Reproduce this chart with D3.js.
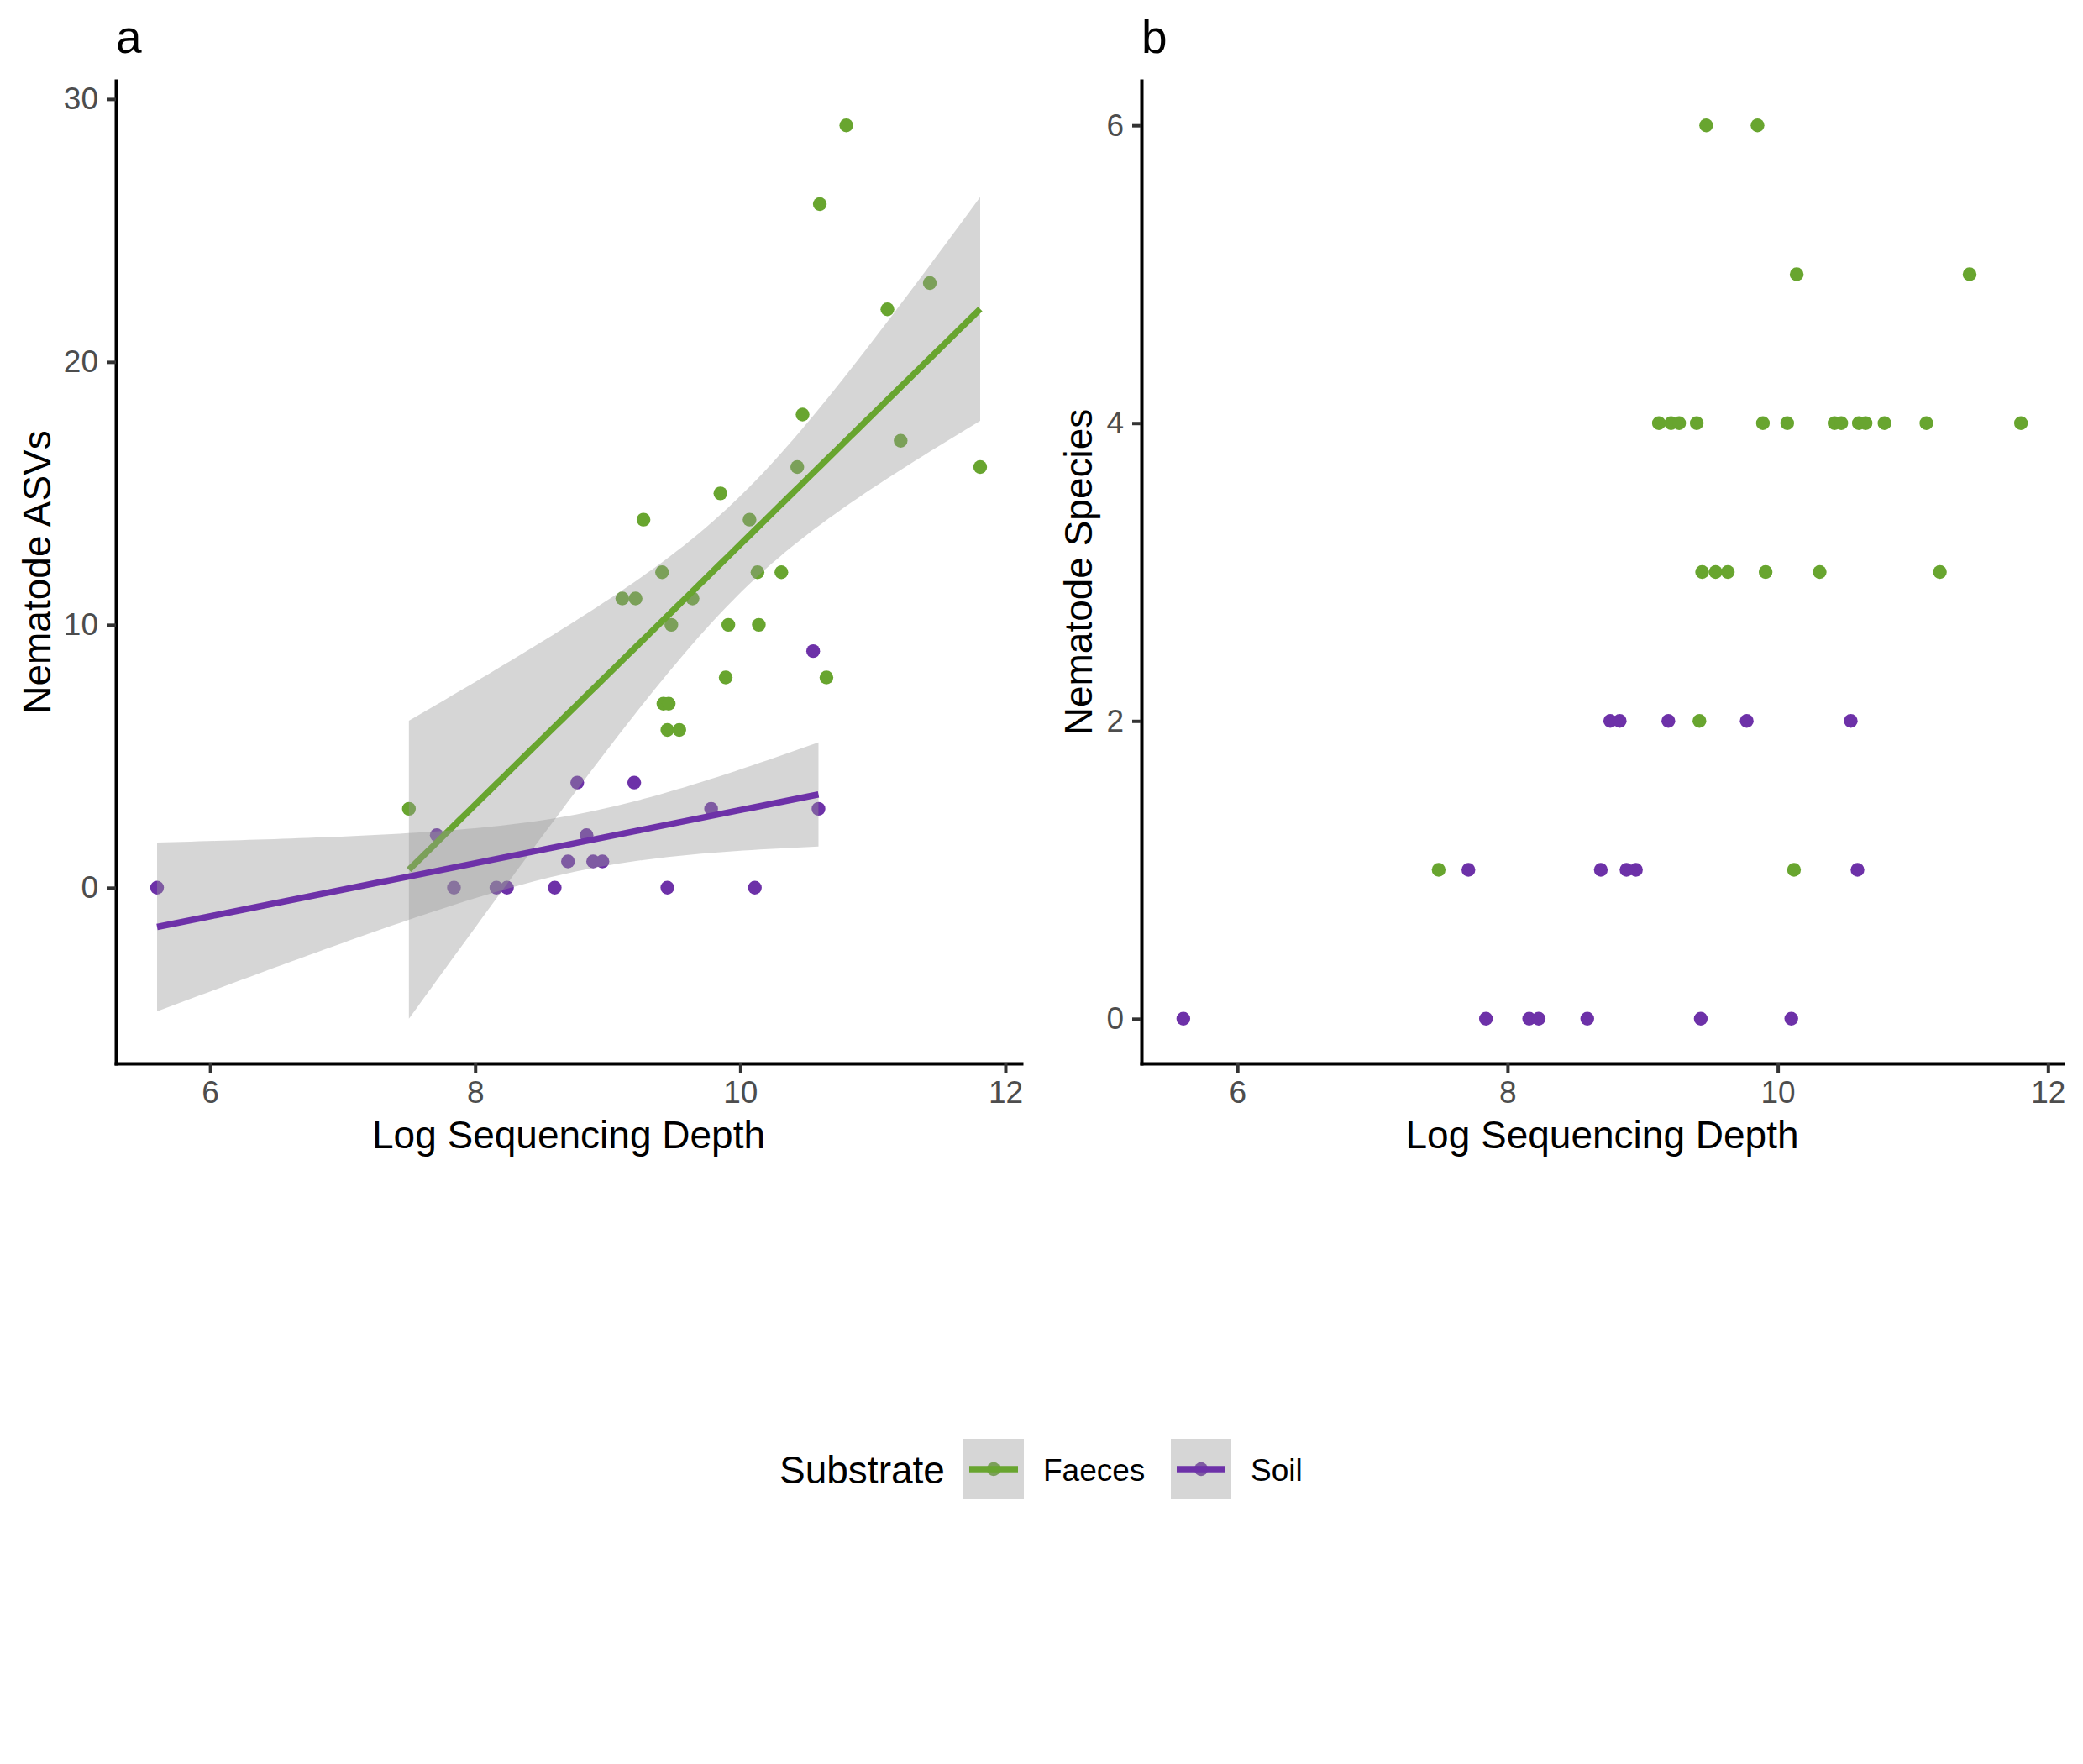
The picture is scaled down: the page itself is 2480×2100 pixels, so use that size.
<!DOCTYPE html>
<html>
<head>
<meta charset="utf-8">
<script src="https://cdn.jsdelivr.net/npm/d3@7"></script>
<style>
  body { margin: 0; background: #ffffff; }
  svg { display: block; }
  text { font-family: "Liberation Sans", Arial, sans-serif; }
</style>
</head>
<body>
<svg id="chart" width="2480" height="2100"></svg>
<script>
// ---------------- data ----------------
const substrates = ["Faeces", "Soil"];
const substrateColors = ["#68A52F", "#6D31A8"];

// Panel a: Nematode ASVs vs log sequencing depth
const faecesDepthA = [7.50, 10.80, 10.60, 11.43, 11.11, 11.21, 11.81, 10.47, 10.43, 9.85, 9.27, 10.07, 9.41, 10.13, 10.31, 9.11, 9.21, 9.64, 9.48, 9.91, 10.14, 9.89, 10.65, 9.42, 9.46, 9.45, 9.54];
const faecesAsv    = [3, 29, 26, 23, 22, 17, 16, 18, 16, 15, 14, 14, 12, 12, 12, 11, 11, 11, 10, 10, 10, 8, 8, 7, 7, 6, 6];
const soilDepthA   = [5.60, 7.84, 8.16, 8.24, 8.60, 9.45, 10.11, 8.70, 8.89, 8.96, 7.71, 8.84, 9.78, 10.59, 8.77, 9.20, 10.55];
const soilAsv      = [0, 0, 0, 0, 0, 0, 0, 1, 1, 1, 2, 2, 3, 3, 4, 4, 9];

// Panel b: Nematode species vs log sequencing depth
const faecesDepthB  = [9.47, 9.85, 10.14, 11.42, 9.12, 9.21, 9.27, 9.40, 9.89, 10.07, 10.42, 10.47, 10.60, 10.65, 10.79, 11.10, 11.80, 9.44, 9.54, 9.63, 9.91, 10.31, 11.20, 9.42, 7.49, 10.12];
const faecesSpecies = [6, 6, 5, 5, 4, 4, 4, 4, 4, 4, 4, 4, 4, 4, 4, 4, 4, 3, 3, 3, 3, 3, 3, 2, 1, 1];
const soilDepthB    = [5.60, 7.84, 8.16, 8.23, 8.59, 9.43, 10.10, 7.71, 8.69, 8.88, 8.95, 10.59, 8.76, 8.83, 9.19, 9.77, 10.54];
const soilSpecies   = [0, 0, 0, 0, 0, 0, 0, 1, 1, 1, 1, 1, 2, 2, 2, 2, 2];

const xTicks = [6, 8, 10, 12];
const yTicksA = [0, 10, 20, 30];
const yTicksB = [0, 2, 4, 6];

const panelLabels = ["a", "b"];
const xTitle = "Log Sequencing Depth";
const yTitleA = "Nematode ASVs";
const yTitleB = "Nematode Species";
const legendTitle = "Substrate";

// ---------------- helpers ----------------
function tQuantile975(v) {
  const z = 1.959964;
  const g1 = (Math.pow(z, 3) + z) / 4;
  const g2 = (5 * Math.pow(z, 5) + 16 * Math.pow(z, 3) + 3 * z) / 96;
  const g3 = (3 * Math.pow(z, 7) + 19 * Math.pow(z, 5) + 17 * Math.pow(z, 3) - 15 * z) / 384;
  const g4 = (79 * Math.pow(z, 9) + 776 * Math.pow(z, 7) + 1482 * Math.pow(z, 5) - 1920 * Math.pow(z, 3) - 945 * z) / 92160;
  return z + g1 / v + g2 / (v * v) + g3 / Math.pow(v, 3) + g4 / Math.pow(v, 4);
}

// ordinary least squares fit with 95% confidence band (as geom_smooth(method = "lm"))
function linFit(xs, ys) {
  const n = xs.length;
  const mx = d3.mean(xs), my = d3.mean(ys);
  const sxx = d3.sum(xs, x => (x - mx) * (x - mx));
  const sxy = d3.sum(xs.map((x, i) => (x - mx) * (ys[i] - my)));
  const b = sxy / sxx, a = my - b * mx;
  const sse = d3.sum(xs.map((x, i) => Math.pow(ys[i] - a - b * x, 2)));
  const s = Math.sqrt(sse / (n - 2));
  const t = tQuantile975(n - 2);
  const [x0, x1] = d3.extent(xs);
  return d3.range(80).map(k => {
    const x = x0 + (x1 - x0) * k / 79;
    const y = a + b * x;
    const se = s * Math.sqrt(1 / n + (x - mx) * (x - mx) / sxx);
    return { x, y, lo: y - t * se, hi: y + t * se };
  });
}

function expand(lo, hi) {
  const p = (hi - lo) * 0.05;
  return [lo - p, hi + p];
}

// ---------------- layout ----------------
const svg = d3.select("#chart");
svg.append("rect").attr("width", 2480).attr("height", 2100).attr("fill", "#ffffff");

const plotTop = 96, plotBottom = 1266;
const panels = [
  { left: 138, right: 1216, label: panelLabels[0], yTitle: yTitleA, yTicks: yTicksA,
    groups: [ { xs: faecesDepthA, ys: faecesAsv }, { xs: soilDepthA, ys: soilAsv } ], smooth: true, yTitleX: 60 },
  { left: 1359, right: 2456, label: panelLabels[1], yTitle: yTitleB, yTicks: yTicksB,
    groups: [ { xs: faecesDepthB, ys: faecesSpecies }, { xs: soilDepthB, ys: soilSpecies } ], smooth: false, yTitleX: 1300 }
];

const fmt = d3.format("d");

panels.forEach(p => {
  const allX = p.groups.flatMap(g => g.xs);
  let allY = p.groups.flatMap(g => g.ys);
  const fits = p.smooth ? p.groups.map(g => linFit(g.xs, g.ys)) : [];
  fits.forEach(f => { allY = allY.concat(f.map(d => d.lo), f.map(d => d.hi)); });

  const x = d3.scaleLinear().domain(expand(d3.min(allX), d3.max(allX))).range([p.left, p.right]);
  const y = d3.scaleLinear().domain(expand(d3.min(allY), d3.max(allY))).range([plotBottom, plotTop]);

  const g = svg.append("g");

  // points
  p.groups.forEach((grp, gi) => {
    g.append("g").selectAll("circle")
      .data(grp.xs.map((xv, i) => [xv, grp.ys[i]]))
      .join("circle")
      .attr("cx", d => x(d[0]))
      .attr("cy", d => y(d[1]))
      .attr("r", 8.2)
      .attr("fill", substrateColors[gi]);
  });

  // smooths: ribbon then line per group
  fits.forEach((f, gi) => {
    g.append("path")
      .attr("d", d3.area().x(d => x(d.x)).y0(d => y(d.lo)).y1(d => y(d.hi))(f))
      .attr("fill", "#999999")
      .attr("fill-opacity", 0.4);
    g.append("path")
      .attr("d", d3.line().x(d => x(d.x)).y(d => y(d.y))(f))
      .attr("fill", "none")
      .attr("stroke", substrateColors[gi])
      .attr("stroke-width", 7.5);
  });

  // axes
  const xAxis = g.append("g").attr("transform", `translate(0,${plotBottom})`)
    .call(d3.axisBottom(x).tickValues(xTicks).tickFormat(fmt).tickSize(11).tickSizeOuter(0).tickPadding(10));
  const yAxis = g.append("g").attr("transform", `translate(${p.left},0)`)
    .call(d3.axisLeft(y).tickValues(p.yTicks).tickFormat(fmt).tickSize(11).tickSizeOuter(0).tickPadding(10));
  [xAxis, yAxis].forEach(ax => {
    ax.select(".domain").attr("stroke", "#000000").attr("stroke-width", 4).attr("stroke-linecap", "square");
    ax.selectAll(".tick line").attr("stroke", "#333333").attr("stroke-width", 4);
    ax.selectAll(".tick text").attr("fill", "#4D4D4D").style("font-size", "37px")
      .style("font-family", '"Liberation Sans", Arial, sans-serif');
  });

  // titles
  g.append("text")
    .attr("x", (p.left + p.right) / 2).attr("y", 1367)
    .attr("text-anchor", "middle").style("font-size", "46px").attr("fill", "#000")
    .text(xTitle);
  g.append("text")
    .attr("transform", `translate(${p.yTitleX},${(plotTop + plotBottom) / 2}) rotate(-90)`)
    .attr("text-anchor", "middle").style("font-size", "46px").attr("fill", "#000")
    .text(p.yTitle);
  g.append("text")
    .attr("x", p.left).attr("y", 63)
    .style("font-size", "55px").attr("fill", "#000")
    .text(p.label);
});

// ---------------- legend ----------------
const leg = svg.append("g");
leg.append("text").attr("x", 928).attr("y", 1766).style("font-size", "46px").attr("fill", "#000").text(legendTitle);
const keyX = [1147, 1394];
const labelX = [1242, 1489];
substrates.forEach((s, i) => {
  const kx = keyX[i], ky = 1713, ks = 72;
  leg.append("circle").attr("cx", kx + ks / 2).attr("cy", ky + ks / 2).attr("r", 8.2).attr("fill", substrateColors[i]);
  leg.append("rect").attr("x", kx).attr("y", ky).attr("width", ks).attr("height", ks)
    .attr("fill", "#999999").attr("fill-opacity", 0.4);
  leg.append("line").attr("x1", kx + 7).attr("x2", kx + ks - 7).attr("y1", ky + ks / 2).attr("y2", ky + ks / 2)
    .attr("stroke", substrateColors[i]).attr("stroke-width", 7.5);
  leg.append("text").attr("x", labelX[i]).attr("y", 1763).style("font-size", "37px").attr("fill", "#000").text(s);
});
</script>
</body>
</html>
